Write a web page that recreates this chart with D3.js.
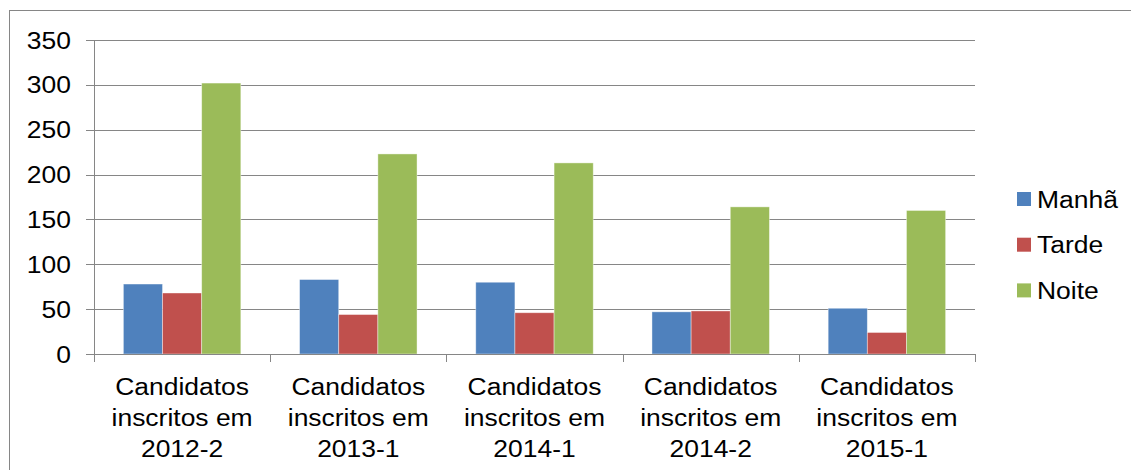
<!DOCTYPE html>
<html>
<head>
<meta charset="utf-8">
<script src="https://cdn.jsdelivr.net/npm/d3@7"></script>
<style>
  body { margin: 0; background: #fff; }
  text { font-family: "Liberation Sans", Arial, sans-serif; fill: #000; }
</style>
</head>
<body>
<div id="canvas"></div>
<script>
"use strict"

/* data */
let categories = ["2012-2", "2013-1", "2014-1", "2014-2", "2015-1"]
let seriesNames = ["Manhã", "Tarde", "Noite"]
let manha = [78, 83, 80, 47, 51]
let tarde = [68, 44, 46, 48, 24]
let noite = [302, 223, 213, 164, 160]
let yTicks = [0, 50, 100, 150, 200, 250, 300, 350]
let colors = ["#4F81BD", "#C0504D", "#9BBB59"]

let svgWidth = 1131
let svgHeight = 470
let plot = { left: 94, right: 975, top: 40, bottom: 354 }
let fontSize = "24.5px"
let stretch = "scale(1.08,1)" /*text in the picture is a bit wider than plain Arial*/

let svg = d3.select("#canvas")
    .append("svg")
    .attr("width", svgWidth)
    .attr("height", svgHeight)

/* outer chart border (runs past the right and bottom edges) */
svg.append("rect")
    .attr("x", 9.5)
    .attr("y", 10.5)
    .attr("width", 1200)
    .attr("height", 600)
    .attr("fill", "none")
    .attr("stroke", "#868686")
    .attr("stroke-width", 1)

let xScale = d3.scaleBand()
    .domain(categories)
    .range([plot.left, plot.right])

let yScale = d3.scaleLinear()
    .domain([0, 350])
    .range([plot.bottom, plot.top])

/* bars take 3 widths, gap 1.5 widths (Excel gap 150%) */
let barW = xScale.bandwidth() / 4.5
let inner = d3.scaleBand()
    .domain(seriesNames)
    .range([barW * 0.75, barW * 3.75])

/* gridlines */
svg.append("g")
    .selectAll("line")
    .data(yTicks)
    .join("line")
    .attr("x1", plot.left - 8)
    .attr("x2", plot.right)
    .attr("y1", d => Math.round(yScale(d)) + 0.5)
    .attr("y2", d => Math.round(yScale(d)) + 0.5)
    .attr("stroke", "#868686")
    .attr("stroke-width", 1)

/* y tick labels */
svg.append("g")
    .selectAll("text")
    .data(yTicks)
    .join("text")
    .attr("transform", d => `translate(71,${yScale(d)}) ${stretch}`)
    .attr("dy", "0.35em")
    .attr("text-anchor", "end")
    .style("font-size", fontSize)
    .text(d => d)

/* bars */
let table = categories.map((c, i) => ({ cat: c, values: [manha[i], tarde[i], noite[i]] }))

let groups = svg.append("g")
    .selectAll("g")
    .data(table)
    .join("g")
    .attr("transform", d => `translate(${xScale(d.cat)},0)`)

groups.selectAll("rect")
    .data(d => d.values.map((v, j) => ({ name: seriesNames[j], value: v, color: colors[j] })))
    .join("rect")
    .attr("x", d => inner(d.name))
    .attr("width", inner.bandwidth())
    .attr("y", d => yScale(d.value))
    .attr("height", d => yScale(0) - yScale(d.value))
    .attr("fill", d => d.color)
    .attr("stroke", "rgba(255,255,255,0.5)")
    .attr("stroke-width", 0.8)

/* y axis line */
svg.append("line")
    .attr("x1", plot.left + 0.5)
    .attr("x2", plot.left + 0.5)
    .attr("y1", plot.top)
    .attr("y2", plot.bottom + 0.5)
    .attr("stroke", "#868686")

/* x axis line with ticks at category boundaries */
svg.append("line")
    .attr("x1", plot.left)
    .attr("x2", plot.right + 0.5)
    .attr("y1", plot.bottom + 0.5)
    .attr("y2", plot.bottom + 0.5)
    .attr("stroke", "#868686")

let boundaries = categories.map(c => xScale(c)).concat([plot.right])
svg.append("g")
    .selectAll("line")
    .data(boundaries)
    .join("line")
    .attr("x1", d => Math.round(d) + 0.5)
    .attr("x2", d => Math.round(d) + 0.5)
    .attr("y1", plot.bottom)
    .attr("y2", plot.bottom + 8)
    .attr("stroke", "#868686")

/* x category labels, three lines each */
let xLabels = svg.append("g")
    .selectAll("text")
    .data(categories)
    .join("text")
    .attr("transform", d => `translate(${xScale(d) + xScale.bandwidth() / 2},0) ${stretch}`)
    .attr("text-anchor", "middle")
    .style("font-size", fontSize)

xLabels.each(function(d) {
    let lines = ["Candidatos", "inscritos em", d]
    d3.select(this).selectAll("tspan")
        .data(lines)
        .join("tspan")
        .attr("x", 0)
        .attr("y", (t, k) => 395 + k * 31)
        .text(t => t)
})

/* legend */
let legend = svg.append("g")
    .selectAll("g")
    .data(seriesNames)
    .join("g")
    .attr("transform", (d, i) => `translate(1017,${192 + i * 45.7})`)

legend.append("rect")
    .attr("width", 14)
    .attr("height", 14)
    .attr("fill", (d, i) => colors[i])

legend.append("text")
    .attr("transform", `translate(20,7) ${stretch}`)
    .attr("dy", "0.35em")
    .style("font-size", fontSize)
    .text(d => d)
</script>
</body>
</html>
